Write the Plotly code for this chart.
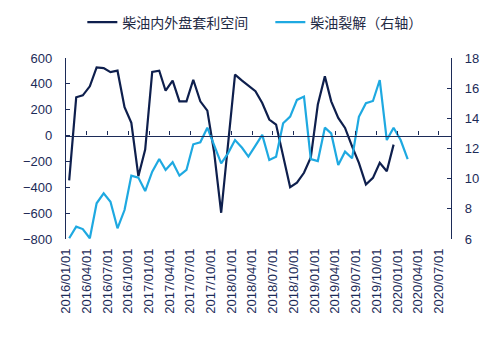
import pandas as pd
import plotly.graph_objects as go

# Monthly series (mid-month observations)
spread_start = "2016-01-01"
spread = [-347, 296, 311, 381, 527, 522, 491, 502, 219, 98, -314, -108,
          492, 502, 347, 425, 265, 265, 432, 265, 193, -130, -597, -70,
          471, 425, 389, 343, 252, 124, 85, -150, -399, -365, -288, -170,
          240, 458, 265, 136, 59, -83, -211, -378, -327, -211, -276, -70]

crack = [6.05, 6.82, 6.66, 6.05, 8.37, 9.03, 8.47, 6.71, 7.92, 10.2, 10.07, 9.18,
         10.46, 11.3, 10.58, 11.09, 10.2, 10.58, 12.28, 12.41, 13.38, 12.23, 11.02, 11.68,
         12.56, 12.05, 11.46, 12.19, 12.9, 11.24, 11.46, 13.67, 14.11, 15.22, 15.44, 11.3,
         11.17, 13.38, 13.0, 10.9, 11.79, 11.35, 14.1, 15.0, 15.15, 16.54, 12.56, 13.38,
         12.56, 11.3]

name_spread = "柴油内外盘套利空间"
name_crack = "柴油裂解（右轴）"

months_spread = pd.date_range(spread_start, periods=len(spread), freq="MS") + pd.Timedelta(days=14)
months_crack = pd.date_range(spread_start, periods=len(crack), freq="MS") + pd.Timedelta(days=14)

tick_dates = pd.date_range("2016-01-01", "2020-07-01", freq="QS")
tick_text = [d.strftime("%Y/%m/%d") for d in tick_dates]

x_range = ["2016-01-01", "2020-08-24"]
left_range = [-800, 600]
right_range = [6, 18]

navy = "#0e1f4d"
sky = "#1ea9e1"
axis_col = "#1c2b58"
font_fam = "Liberation Sans, Arial, sans-serif"

fig = go.Figure()
fig.add_trace(go.Scatter(x=months_spread, y=spread, name=name_spread, mode="lines",
                         line=dict(color=navy, width=2.2), xaxis="x", yaxis="y"))
fig.add_trace(go.Scatter(x=months_crack, y=crack, name=name_crack, mode="lines",
                         line=dict(color=sky, width=2.2), xaxis="x2", yaxis="y2"))

zero_pos = (0 - left_range[0]) / (left_range[1] - left_range[0])

fig.update_layout(
    width=499, height=337,
    margin=dict(l=66, r=48, t=58, b=98, autoexpand=False),
    paper_bgcolor="white", plot_bgcolor="white",
    font=dict(family=font_fam, color=axis_col, size=13),
    showlegend=True,
    legend=dict(orientation="h", x=0.165, xanchor="left", y=0.933, yanchor="middle",
                xref="container", yref="container", tracegroupgap=0,
                entrywidth=143, entrywidthmode="pixels",
                font=dict(family="Noto Sans CJK SC", size=14, color="#1f2a44")),
    xaxis=dict(type="date", range=x_range, tickmode="array", tickvals=tick_dates,
               ticktext=tick_text, tickangle=-90, showline=False, ticks="",
               showgrid=False, zeroline=False, ticklabelstandoff=6,
               tickfont=dict(size=13, color=axis_col)),
    xaxis2=dict(type="date", range=x_range, overlaying="x", anchor="free", position=zero_pos,
                side="bottom", tickmode="array", tickvals=tick_dates, showticklabels=False,
                showline=True, linecolor=axis_col, linewidth=1.3, ticks="inside",
                ticklen=4, tickcolor=axis_col, tickwidth=1, showgrid=False, zeroline=False),
    yaxis=dict(range=left_range, dtick=200, tick0=0, showline=True, linecolor=axis_col,
               linewidth=1.3, ticks="inside", ticklen=4, tickcolor=axis_col,
               showgrid=False, zeroline=False, ticklabelstandoff=10,
               tickfont=dict(size=13, color=axis_col)),
    yaxis2=dict(range=right_range, dtick=2, overlaying="y", side="right", anchor="x2",
                showline=True, linecolor=axis_col, linewidth=1.3, ticks="inside",
                ticklen=4, tickcolor=axis_col, showgrid=False, zeroline=False,
                ticklabelstandoff=10, tickfont=dict(size=13, color=axis_col)),
)

fig.write_html("out.html")
